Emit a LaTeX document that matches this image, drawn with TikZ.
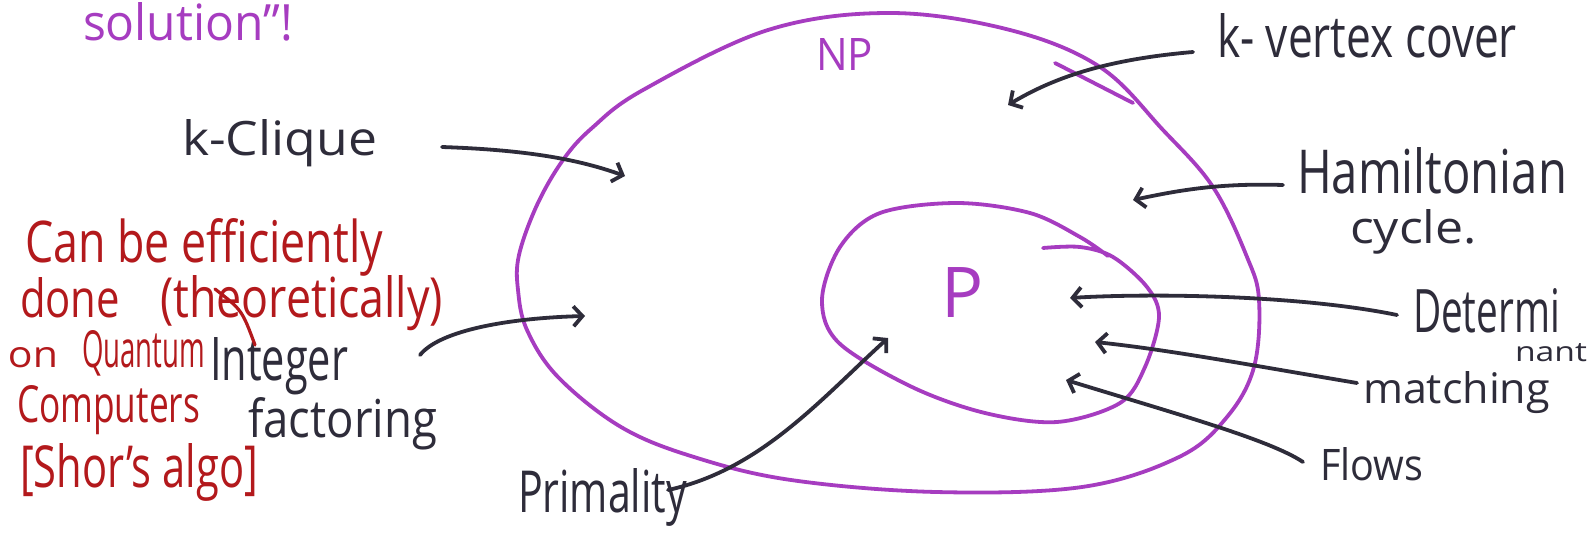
\documentclass[tikz,border=0pt]{standalone}
\usepackage{fontspec}
\setmainfont{Open Sans}
\usetikzlibrary{arrows.meta}
\definecolor{ink}{HTML}{2E2C3A}
\definecolor{npurple}{HTML}{A63CC0}
\definecolor{redink}{HTML}{B3191C}
\newcommand{\whbox}[3]{\resizebox{#1pt}{#2pt}{#3}}
\begin{document}
\begin{tikzpicture}[x=1pt,y=-1pt,
  lbl/.style={inner sep=0pt,outer sep=0pt,anchor=base west,text=ink,font=\fontsize{40}{44}\selectfont},
  rlbl/.style={lbl,text=redink},
  plbl/.style={lbl,text=npurple},
  set/.style={draw=npurple,line width=3.8pt,line cap=round,line join=round},
  conn/.style={draw=ink,line width=3.8pt,line cap=round,
    -{Straight Barb[length=9pt,width=20pt,line width=3.8pt]}}]
\useasboundingbox[fill=white] (0,0) rectangle (1591,533);

% NP set
\draw[set] plot[smooth cycle,tension=0.6] coordinates {
 (519,255) (537,205) (563,160) (592,128) (643,90) (768,30) (890,13) (1010,30)
 (1100,67) (1163,130) (1213,187) (1247,257) (1259,300) (1254,367) (1227,417)
 (1179,457) (1082,487) (936,492) (791,480) (694,457) (621,427) (558,377) (527,330) (518,290)};
\draw[set] (1055,63) -- (1133,103);

% P set
\draw[set] plot[smooth,tension=0.55] coordinates {
 (1108,256) (1080,237) (1030,213) (957,203) (880,213) (840,247) (822,300)
 (839,343) (912,387) (985,413) (1057,422) (1120,403) (1145,367) (1159,317)
 (1147,287) (1113,257) (1080,247) (1043,248)};

% labels
\node[plbl] (sol) at (83,40) {\whbox{210}{38}{solution"!}};
\node[plbl] (np) at (816,70) {\whbox{57}{32}{NP}};
\node[plbl,anchor=center,font=\fontsize{70}{74}\selectfont] (p) at (963,293) {P};

\node[lbl] (kclique) at (182,155) {\whbox{195}{36}{k-Clique}};
\node[lbl] (kvc) at (1217,57) {\whbox{300}{44}{k- vertex cover}};
\node[lbl] (ham) at (1297,193) {\whbox{270}{46}{Hamiltonian}};
\node[lbl] (cyc) at (1350,243) {\whbox{127}{34}{cycle.}};
\node[lbl] (det) at (1413,332) {\whbox{147}{44}{Determi}};
\node[lbl] (nant) at (1515,361) {\whbox{72}{18}{nant}};
\node[lbl] (match) at (1363,403) {\whbox{187}{32}{matching}};
\node[lbl] (flows) at (1320,480) {\whbox{103}{33}{Flows}};
\node[lbl] (prim) at (518,512) {\whbox{169}{44}{Primality}};
\node[lbl] (integer) at (210,380) {\whbox{138}{43}{Integer}};
\node[lbl] (fact) at (248,437) {\whbox{189}{40}{factoring}};

\node[rlbl] (r1) at (25,262) {\whbox{358}{44}{Can be efficiently}};
\node[rlbl] (r2a) at (20,317) {\whbox{100}{40}{done}};
\node[rlbl] (r2b) at (160,317) {\whbox{283}{42}{(theoretically)}};
\node[rlbl] (r3a) at (8,367) {\whbox{50}{20}{on}};
\node[rlbl] (r3b) at (82,367) {\whbox{123}{37}{Quantum}};
\node[rlbl] (r4) at (17,422) {\whbox{183}{37}{Computers}};
\node[rlbl] (r5) at (20,487) {\whbox{238}{44}{[Shor's algo]}};
\draw[draw=redink,line width=3.2pt,line cap=round] (r2b.base west)++(55,-28) .. controls (242,310) .. (255,345);

% connector ends
\coordinate (kcS) at (442,147);   \coordinate (kcT) at (625,176);
\coordinate (vcS) at (1193,52);   \coordinate (vcT) at (1008,105);
\coordinate (hamS) at (1283,185); \coordinate (hamT) at (1133,200);
\coordinate (detS) at (1397,315); \coordinate (detT) at (1070,298);
\coordinate (maS) at (1357,383);  \coordinate (maT) at (1095,342);
\coordinate (flS) at (1303,462);  \coordinate (flT) at (1066,380);
\coordinate (prS) at (668,490);   \coordinate (prT) at (888,338);
\coordinate (inS) at (420,355);   \coordinate (inT) at (585,316);

\draw[conn] (kcS) .. controls (530,150) and (580,160) .. (kcT);
\draw[conn] (vcS) .. controls (1100,60) and (1050,80) .. (vcT);
\draw[conn] (hamS) .. controls (1220,183) and (1180,190) .. (hamT);
\draw[conn] (detS) .. controls (1300,295) and (1150,293) .. (detT);
\draw[conn] (maS) .. controls (1250,365) and (1170,350) .. (maT);
\draw[conn] (flS) .. controls (1270,440) and (1180,415) .. (flT);
\draw[conn] (prS) .. controls (760,470) and (820,400) .. (prT);
\draw[conn] (inS) .. controls (440,330) and (510,318) .. (inT);
\end{tikzpicture}
\end{document}
